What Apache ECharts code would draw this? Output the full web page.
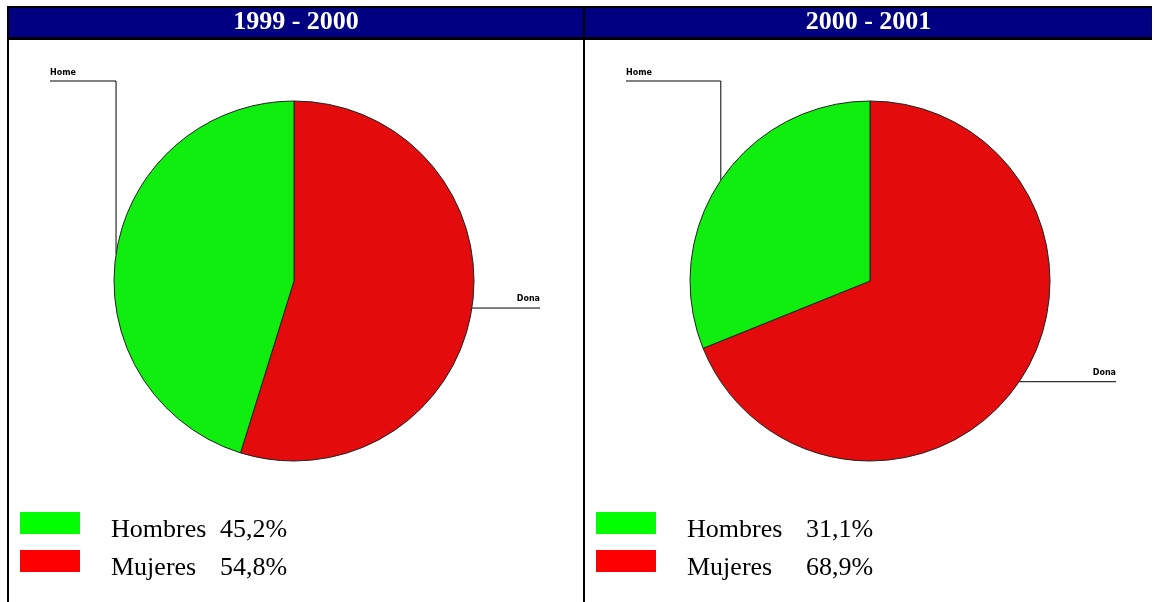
<!DOCTYPE html>
<html>
<head>
<meta charset="utf-8">
<script src="https://cdn.jsdelivr.net/npm/echarts@6/dist/echarts.min.js"></script>
<style>
body{margin:0;background:#fff;width:1155px;height:602px;overflow:hidden;position:relative}
.ln{position:absolute;background:#000}
.chart{position:absolute;top:8px;height:594px}
</style>
</head>
<body>
<div class="ln" style="left:7px;top:6px;width:1145px;height:2px"></div>
<div class="ln" style="left:7px;top:6px;width:2px;height:596px"></div>
<div class="ln" style="left:583px;top:6px;width:2px;height:596px"></div>
<div id="c1" class="chart" style="left:9px;width:574px"></div>
<div id="c2" class="chart" style="left:585px;width:567px"></div>
<script>
var periods = ['1999 - 2000', '2000 - 2001']
var categories = ['Hombres', 'Mujeres']
var sliceLabels = ['Home', 'Dona']
var values1999 = [45.2, 54.8]
var values2000 = [31.1, 68.9]
var pieColors = ['#10ee10', '#e30b0b']
var legendColors = ['#00ff00', '#ff0000']

var serif = 'Liberation Serif'

function fmt(v) {
	return v.toFixed(1).replace('.', ',') + '%'
}

function build(title, values, nameWidth, width) {
	// mujeres first so the red slice runs clockwise from 12 o'clock
	var order = [1, 0]
	var data = order.map(function(i) {
		return {
			name: categories[i],
			value: values[i],
			itemStyle: { color: pieColors[i] },
			label: { formatter: sliceLabels[i] }
		}
	})
	return {
		animation: false,
		title: {
			text: title,
			left: 'center',
			top: 1,
			padding: 0,
			textStyle: { color: '#fff', fontFamily: serif, fontWeight: 'bold', fontSize: 26, lineHeight: 26 }
		},
		graphic: [
			{ type: 'rect', shape: { x: 0, y: 0, width: width, height: 29 }, style: { fill: '#000080' } },
			{ type: 'rect', shape: { x: 0, y: 29, width: width, height: 3 }, style: { fill: '#000' } }
		],
		legend: {
			orient: 'vertical',
			left: 6,
			top: 499,
			itemWidth: 60,
			itemHeight: 22,
			itemGap: 7,
			selectedMode: false,
			data: categories.map(function(c, i) {
				return { name: c, icon: 'rect', itemStyle: { color: legendColors[i], borderWidth: 0 } }
			}),
			formatter: function(name) {
				var i = categories.indexOf(name)
				return '{n|' + name + '}{v|' + fmt(values[i]) + '}'
			},
			textStyle: {
				color: '#000',
				fontFamily: serif,
				fontSize: 26,
				padding: [14, 0, 0, 26],
				rich: {
					n: { width: nameWidth, fontFamily: serif, fontSize: 26, color: '#000' },
					v: { fontFamily: serif, fontSize: 26, color: '#000' }
				}
			}
		},
		series: [{
			type: 'pie',
			center: [285, 273],
			radius: 180,
			startAngle: 90,
			clockwise: true,
			silent: true,
			data: data,
			itemStyle: { borderColor: '#222', borderWidth: 1 },
			label: {
				show: true,
				position: 'outside',
				color: '#000',
				fontFamily: 'DejaVu Sans',
				fontWeight: 'bold',
				fontSize: 8
			},
			labelLine: { show: true, lineStyle: { color: '#000', width: 1 } },
			labelLayout: function(p) { // home goes up and left, dona goes right
				var a = [p.labelLinePoints[0][0], p.labelLinePoints[0][1]]
				if (p.dataIndex == 1) {
					return { x: 41, y: 65, align: 'left', verticalAlign: 'middle',
						labelLinePoints: [a, [a[0], 73], [41, 73]] }
				}
				return { x: 531, y: a[1] - 9, align: 'right', verticalAlign: 'middle',
					labelLinePoints: [a, [531, a[1]], [531, a[1]]] }
			}
		}]
	}
}

var chart1 = echarts.init(document.getElementById('c1'))
chart1.setOption(build(periods[0], values1999, 109, 574))
var chart2 = echarts.init(document.getElementById('c2'))
chart2.setOption(build(periods[1], values2000, 119, 567))
</script>
</body>
</html>
